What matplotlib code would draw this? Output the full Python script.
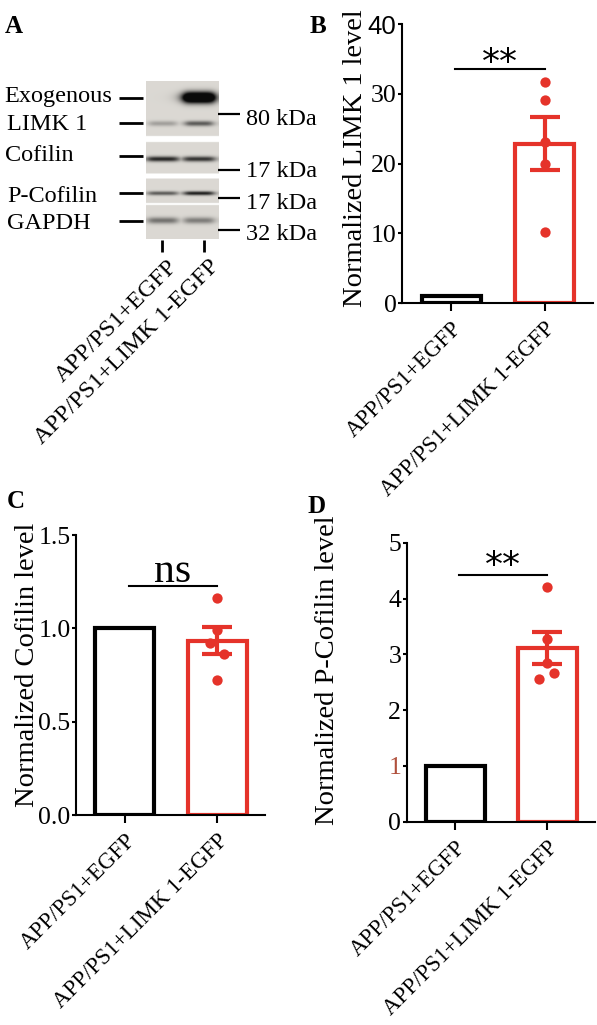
import numpy as np
import matplotlib
matplotlib.use('Agg')
import matplotlib.pyplot as plt
from matplotlib.transforms import ScaledTranslation

plt.rcParams['font.family'] = ['Liberation Serif', 'DejaVu Serif']

W, H = 597, 1025
RED = '#e5332a'

groups = ['APP/PS1+EGFP', 'APP/PS1+LIMK 1-EGFP']

# B: LIMK 1 level
limk_mean = [1.0, 22.8]
limk_sem = [0.0, 3.8]
limk_pts = [31.7, 29.1, 23.1, 19.9, 10.2]
limk_jit = [0, 0, 0, 0, 0]

# C: Cofilin level
cof_mean = [1.0, 0.934]
cof_sem = [0.0, 0.073]
cof_pts = [1.16, 0.99, 0.923, 0.86, 0.723]
cof_jit = [0, 0, -0.08, 0.08, 0]

# D: P-Cofilin level
pcof_mean = [1.0, 3.11]
pcof_sem = [0.0, 0.29]
pcof_pts = [4.21, 3.27, 2.85, 2.67, 2.55]
pcof_jit = [0, 0, 0, 0.07, -0.09]

# A: western blot, band darkness per lane (0 = none, 1 = saturated)
blot_rows = ['Exogenous', 'LIMK 1', 'Cofilin', 'P-Cofilin', 'GAPDH']
blot_dark = {'Exogenous': [0.0, 1.0],
             'LIMK 1': [0.28, 0.62],
             'Cofilin': [0.88, 0.82],
             'P-Cofilin': [0.62, 0.92],
             'GAPDH': [0.50, 0.45]}
kda_labels = ['80 kDa', '17 kDa', '17 kDa', '32 kDa']


def px_axes(x0, x1, y_top, y_bot):
    return fig.add_axes([x0 / W, 1 - y_bot / H, (x1 - x0) / W, (y_bot - y_top) / H])


fig = plt.figure(figsize=(W / 100, H / 100), dpi=100)

# ---------------- panel A ----------------
axa = px_axes(0, 330, 0, 480)
axa.axis('off')

# blot picture, built on a pixel grid
bx0, bx1, by0, by1 = 145.7, 218.3, 81.7, 239.3
nx, ny = 146, 316
xs = np.linspace(bx0, bx1, nx)
ys = np.linspace(by0, by1, ny)
X, Y = np.meshgrid(xs, ys)
strips = [(81.7, 136.7), (142.7, 174.0), (179.0, 203.3), (205.7, 239.3)]
bg = np.array([0.86, 0.85, 0.83])
lane_x = [162.3, 198.5]
# band centre y, half width, vertical sigma
band_geo = {'Exogenous': (98.0, 16, 5.5),
            'LIMK 1': (124.0, 14, 2.6),
            'Cofilin': (159.5, 16, 2.6),
            'P-Cofilin': (193.8, 15, 2.0),
            'GAPDH': (221.0, 15, 3.2)}
shade = np.zeros((ny, nx))
for name in blot_rows:
    cy, hw, sy = band_geo[name]
    for lx, d in zip(lane_x, blot_dark[name]):
        prof = 1 / (1 + ((X - lx) / hw) ** 6) * np.exp(-((Y - cy) / sy) ** 2)
        if name == 'Exogenous':
            prof = np.clip(prof * 1.8, 0, 1)
        shade = np.maximum(shade, d * prof)
inside = np.zeros((ny, nx), bool)
for s0, s1 in strips:
    inside |= (Y >= s0) & (Y <= s1)
img = np.ones((ny, nx, 3))
for c in range(3):
    img[..., c] = np.where(inside, bg[c] * (1 - 0.95 * shade), 1.0)
axa.imshow(img, extent=(bx0, bx1, by1, by0), aspect='auto', interpolation='bilinear')
axa.set_xlim(0, 330)
axa.set_ylim(480, 0)

fs = 17.5
left_text = [(4, 101.7), (7, 130), (5, 161), (7, 201.7), (7, 229.3)]
left_tick_y = [97.7, 123.3, 156, 193.3, 220.7]
for name, (tx, ty), ly in zip(blot_rows, left_text, left_tick_y):
    axa.text(tx, ty, name, fontsize=fs, va='baseline', ha='left')
    axa.plot([119, 143], [ly, ly], color='black', lw=2, solid_capstyle='butt')
right_tick_y = [114.3, 170, 198.3, 230]
right_text_y = [125, 176.7, 209.3, 240]
for lab, ly, ty in zip(kda_labels, right_tick_y, right_text_y):
    axa.plot([218.3, 240], [ly, ly], color='black', lw=1.6, solid_capstyle='butt')
    axa.text(246.5, ty, lab, fontsize=fs, va='baseline', ha='left')
lane_tick_x = [162.3, 204]
for lx, g in zip(lane_tick_x, groups):
    axa.plot([lx, lx], [240, 252], color='black', lw=2, solid_capstyle='butt')
    axa.text(lx + 5, 256, g, fontsize=fs, rotation=45, ha='right', va='top',
             rotation_mode='anchor')


# ---------------- bar panels ----------------
def bar_panel(ax, means, sem, pts, jit, ylim, yticks, yfmt, ylabel, ylab_fs, sig, sig_y, txt_y, lab_xy):
    x = np.arange(2)
    ax.bar(x, means, width=0.64, color='white', edgecolor=['black', RED], linewidth=3, zorder=2)
    ax.errorbar(x[1], means[1], yerr=sem[1], color=RED, lw=3, capsize=11, capthick=3, zorder=3)
    ax.scatter(x[1] + np.array(jit), pts, s=55, color=RED, zorder=4, linewidths=0)
    ax.plot([0.04, 1.0], [sig_y, sig_y], color='black', lw=1.5)
    if sig == 'ns':
        ax.text(0.52, txt_y, sig, fontsize=30, ha='center', va='baseline')
    else:
        ax.text(0.52, txt_y, sig, fontsize=26, ha='center', va='baseline',
                family='DejaVu Sans')
    ax.set_ylim(*ylim)
    ax.set_xlim(-0.53, 1.52)
    ax.set_yticks(yticks)
    ax.set_yticklabels([yfmt.format(v) for v in yticks])
    ax.set_xticks(x)
    ax.set_xticklabels(groups, rotation=45, ha='right', rotation_mode='anchor')
    off = ScaledTranslation(5 / 100, 0, fig.dpi_scale_trans)
    for t in ax.get_xticklabels():
        t.set_transform(t.get_transform() + off)
    ax.tick_params(axis='y', length=3, width=1.5, pad=1, labelsize=18.5)
    ax.tick_params(axis='x', length=6, width=1.5, pad=5, labelsize=16.5)
    for s in ['top', 'right']:
        ax.spines[s].set_visible(False)
    for s in ['left', 'bottom']:
        ax.spines[s].set_linewidth(1.5)
    ax.set_ylabel(ylabel, fontsize=ylab_fs)
    ax.yaxis.set_label_coords(*lab_xy)


axb = px_axes(402, 593, 24, 303)
bar_panel(axb, limk_mean, limk_sem, limk_pts, limk_jit, (0, 40), [0, 10, 20, 30, 40], '{:.0f}',
          'Normalized LIMK 1 level', 20.5, '**', 33.5, 33.0, (-0.18, 0.52))
axb.get_yticklabels()[-1].set_family('Liberation Sans')

axc = px_axes(76, 265, 535, 815)
bar_panel(axc, cof_mean, cof_sem, cof_pts, cof_jit, (0, 1.5), [0, 0.5, 1.0, 1.5], '{:.1f}',
          'Normalized Cofilin level', 20.5, 'ns', 1.227, 1.25, (-0.19, 0.536))

axd = px_axes(406.7, 595, 542.7, 821.7)
bar_panel(axd, pcof_mean, pcof_sem, pcof_pts, pcof_jit, (0, 5), [0, 1, 2, 3, 4, 5], '{:.0f}',
          'Normalized P-Cofilin level', 20.5, '**', 4.43, 4.40, (-0.355, 0.544))
axd.get_yticklabels()[1].set_color('#b0503c')

# panel letters
for letter, lx, ly in [('A', 5, 33), ('B', 310, 33), ('C', 7, 508), ('D', 307, 513)]:
    fig.text(lx / W, 1 - ly / H, letter, fontsize=18, fontweight='bold', va='baseline')

fig.savefig('out.png', dpi=100)
